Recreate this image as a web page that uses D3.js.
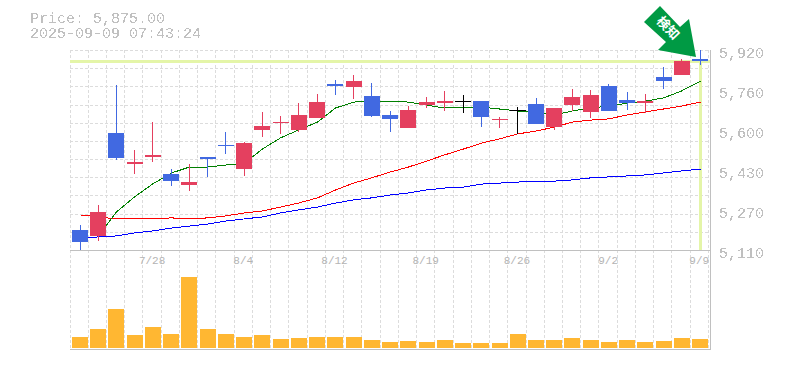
<!DOCTYPE html>
<html>
<head>
<meta charset="utf-8">
<script src="https://cdn.jsdelivr.net/npm/d3@7"></script>
<style>
  html, body { margin: 0; padding: 0; background: #fff; }
  svg { display: block; }
  text { font-family: "Liberation Mono", monospace; fill: #c0c0c0; }
</style>
</head>
<body>
<div id="chart"></div>
<script>
var dates = ['7/22','7/23','7/24','7/25','7/28','7/29','7/30','7/31','8/1','8/4','8/5','8/6','8/7','8/8','8/12','8/13','8/14','8/15','8/18','8/19','8/20','8/21','8/22','8/25','8/26','8/27','8/28','8/29','9/1','9/2','9/3','9/4','9/5','9/8','9/9']
var opens = [5191,5167,5584,5458,5487,5418,5373,5487,5535,5438,5596,5624,5596,5645,5782,5770,5734,5657,5604,5697,5705,5713,5713,5636,5677,5701,5608,5697,5669,5774,5718,5705,5811,5819,5884]
var highs = [5211,5292,5778,5515,5628,5438,5458,5487,5588,5547,5669,5653,5705,5742,5799,5819,5786,5673,5693,5730,5754,5738,5713,5649,5689,5726,5685,5762,5758,5782,5750,5742,5851,5884,5920]
var lows = [5110,5146,5475,5418,5466,5369,5349,5406,5499,5410,5568,5580,5588,5645,5738,5722,5649,5588,5604,5685,5673,5665,5608,5604,5580,5620,5596,5673,5645,5673,5677,5665,5762,5819,5859]
var closes = [5142,5264,5483,5466,5495,5389,5385,5479,5531,5543,5612,5628,5657,5709,5774,5794,5653,5641,5677,5709,5713,5713,5649,5641,5677,5620,5685,5730,5738,5673,5705,5713,5794,5875,5875]
var maShort = [null,5167,5264,5325,5377,5422,5446,5446,5454,5462,5519,5564,5596,5628,5685,5709,5713,5713,5709,5697,5685,5689,5689,5681,5673,5669,5657,5673,5685,5693,5705,5713,5726,5754,5794]
var maMid = [5252,5244,5236,5236,5236,5240,5236,5240,5248,5260,5268,5284,5300,5321,5353,5381,5402,5426,5446,5470,5495,5519,5543,5560,5580,5592,5608,5628,5636,5641,5657,5669,5681,5693,5709]
var maLong = [5159,5163,5167,5179,5187,5199,5207,5215,5227,5236,5244,5260,5272,5284,5300,5313,5321,5333,5341,5353,5361,5365,5377,5381,5385,5389,5389,5394,5402,5406,5410,5414,5422,5430,5438]
var volumes = [110,190,390,130,210,140,710,190,140,110,130,90,100,110,110,110,80,60,70,60,80,50,50,50,140,80,80,100,80,60,80,60,70,100,90]

var priceTicks = [5920,5758,5596,5434,5272,5110]
var priceLabels = ['5,920','5,760','5,600','5,430','5,270','5,110']
var dateTicks = ['7/28','8/4','8/12','8/19','8/26','9/2','9/9']
var lastPrice = 5875
var title = ['Price: 5,875.00', '2025-09-09 07:43:24']

var width = 785, height = 370
var plot = {left: 70, right: 710, top: 50, bottom: 250, volBottom: 349}

var svg = d3.select('#chart').append('svg')
  .attr('width', width)
  .attr('height', height)

// hard edge on the text so it reads like the bitmap font of the original
svg.append('filter')
  .attr('id', 'hard')
  .attr('filterUnits', 'userSpaceOnUse')
  .attr('x', 0).attr('y', 0).attr('width', width).attr('height', height)
  .append('feComponentTransfer')
  .append('feFuncA')
  .attr('type', 'discrete')
  .attr('tableValues', '0 0 1 1')

var x = d3.scaleBand().domain(dates).range([plot.left, 708.4])
var y = d3.scaleLinear().domain([5110, 5920]).range([plot.bottom, plot.top])
var yVol = d3.scaleLinear().domain([0, 1000]).range([348, 248])

function center(d) { return Math.round(x(d) + 9.5) }
function barLeft(d) { return Math.ceil(x(d) + 1.5) }

// GRID
var grid = svg.append('g')
  .attr('stroke', '#dcdcdc')
  .attr('stroke-dasharray', '3,2')
  .attr('shape-rendering', 'crispEdges')

grid.selectAll('.v').data(dates.concat(['end'])).enter().append('line')
  .attr('class', 'v')
  .attr('x1', function(d, i) { return Math.floor(plot.left + i * x.step()) + 0.5 })
  .attr('x2', function(d, i) { return Math.floor(plot.left + i * x.step()) + 0.5 })
  .attr('y1', plot.top)
  .attr('y2', plot.volBottom)

grid.selectAll('.h').data(d3.range(11)).enter().append('line')
  .attr('class', 'h')
  .attr('x1', plot.left)
  .attr('x2', plot.right)
  .attr('y1', function(d) { return Math.round(plot.top + d * 200 / 11) + 0.5 })
  .attr('y2', function(d) { return Math.round(plot.top + d * 200 / 11) + 0.5 })

// LAST PRICE CROSSHAIR
var last = dates[dates.length - 1]
svg.append('line')
  .attr('x1', plot.left).attr('x2', plot.right)
  .attr('y1', y(lastPrice)).attr('y2', y(lastPrice))
  .attr('stroke', '#e4f5a8').attr('stroke-width', 3)
  .attr('shape-rendering', 'crispEdges')
svg.append('line')
  .attr('x1', center(last) + 0.5).attr('x2', center(last) + 0.5)
  .attr('y1', y(lastPrice)).attr('y2', plot.bottom)
  .attr('stroke', '#e4f5a8').attr('stroke-width', 3)
  .attr('shape-rendering', 'crispEdges')

// FRAME
var frame = svg.append('g').attr('stroke', '#c0c0c0').attr('shape-rendering', 'crispEdges')
frame.append('line').attr('x1', plot.left).attr('x2', plot.right + 1).attr('y1', plot.bottom + 0.5).attr('y2', plot.bottom + 0.5)
frame.append('line').attr('x1', plot.left).attr('x2', plot.right + 1).attr('y1', plot.volBottom + 0.5).attr('y2', plot.volBottom + 0.5)
frame.append('line').attr('x1', plot.right + 0.5).attr('x2', plot.right + 0.5).attr('y1', plot.top).attr('y2', plot.volBottom)

// MOVING AVERAGES
var line = d3.line()
  .defined(function(d) { return d != null })
  .x(function(d, i) { return center(dates[i]) + 0.5 })
  .y(function(d) { return y(d) })

var maSeries = [{values: maLong, color: '#0000ff'}, {values: maMid, color: '#ff0000'}, {values: maShort, color: '#008000'}]
svg.selectAll('.ma').data(maSeries).enter().append('path')
  .attr('class', 'ma')
  .attr('d', function(d) { return line(d.values) })
  .attr('fill', 'none')
  .attr('stroke', function(d) { return d.color })
  .attr('stroke-width', 1)
  .attr('shape-rendering', 'crispEdges')

// CANDLES
function candleColor(i) {
  if (closes[i] > opens[i]) return '#e4405f'
  if (closes[i] < opens[i]) return '#4169e1'
  return '#000000'
}

var candles = svg.selectAll('.candle').data(dates).enter().append('g')
  .attr('class', 'candle')
  .attr('shape-rendering', 'crispEdges')
  .attr('fill', function(d, i) { return candleColor(i) })

candles.append('rect')
  .attr('x', function(d) { return center(d) })
  .attr('width', 1)
  .attr('y', function(d, i) { return Math.round(y(highs[i])) })
  .attr('height', function(d, i) { return Math.round(y(lows[i])) - Math.round(y(highs[i])) })

candles.append('rect')
  .attr('x', function(d) { return barLeft(d) })
  .attr('width', 16)
  .attr('y', function(d, i) { return Math.round(y(Math.max(opens[i], closes[i]))) })
  .attr('height', function(d, i) {
    var top = Math.round(y(Math.max(opens[i], closes[i])))
    return Math.max(Math.round(y(Math.min(opens[i], closes[i]))) - top, 1)
  })

// VOLUME
svg.selectAll('.vol').data(dates).enter().append('rect')
  .attr('class', 'vol')
  .attr('x', function(d) { return barLeft(d) })
  .attr('width', 16)
  .attr('y', function(d, i) { return yVol(volumes[i]) })
  .attr('height', function(d, i) { return yVol(0) - yVol(volumes[i]) })
  .attr('fill', '#ffb732')
  .attr('shape-rendering', 'crispEdges')

// AXES
var yAxis = d3.axisRight(y)
  .tickValues(priceTicks)
  .tickFormat(function(d, i) { return priceLabels[i] })
  .tickSize(0)
  .tickPadding(0)

svg.append('g')
  .attr('transform', 'translate(719,3)')
  .attr('filter', 'url(#hard)')
  .call(yAxis)
  .call(function(g) {
    g.select('.domain').remove()
    g.selectAll('text').attr('fill', null).style('font-size', '15px').style('font-family', '"Liberation Mono", monospace')
  })

var xAxis = d3.axisBottom(x)
  .tickValues(dateTicks)
  .tickSize(0)
  .tickPadding(0)

svg.append('g')
  .attr('transform', 'translate(0,' + (plot.bottom + 6) + ')')
  .call(xAxis)
  .call(function(g) {
    g.select('.domain').remove()
    g.selectAll('text').attr('fill', null).style('font-size', '11px').style('font-family', '"Liberation Mono", monospace').style('fill', '#b4b4b4')
  })

// TITLE
svg.append('g')
  .attr('filter', 'url(#hard)')
  .selectAll('.title').data(title).enter().append('text')
  .attr('class', 'title')
  .attr('x', 30)
  .attr('y', function(d, i) { return 23 + i * 15 })
  .style('font-size', '15px')
  .text(function(d) { return d })

// ARROW
var tipX = center(last) - 4, tipY = y(highs[34]) + 7
var arrow = [[-52, -35], [-36, -51], [-16, -30], [-7, -38], [0, 0], [-38, -7], [-30, -15]]
svg.append('polygon')
  .attr('points', arrow.map(function(p) { return (tipX + p[0]) + ',' + (tipY + p[1]) }).join(' '))
  .attr('fill', '#009a44')

svg.append('text')
  .attr('transform', 'translate(' + (tipX - 28) + ',' + (tipY - 29) + ') rotate(47)')
  .attr('text-anchor', 'middle')
  .attr('dy', '0.35em')
  .style('font-family', '"Noto Sans CJK JP"')
  .style('font-size', '13px')
  .style('font-weight', 'bold')
  .style('fill', '#ffffff')
  .text('検知')
</script>
</body>
</html>
